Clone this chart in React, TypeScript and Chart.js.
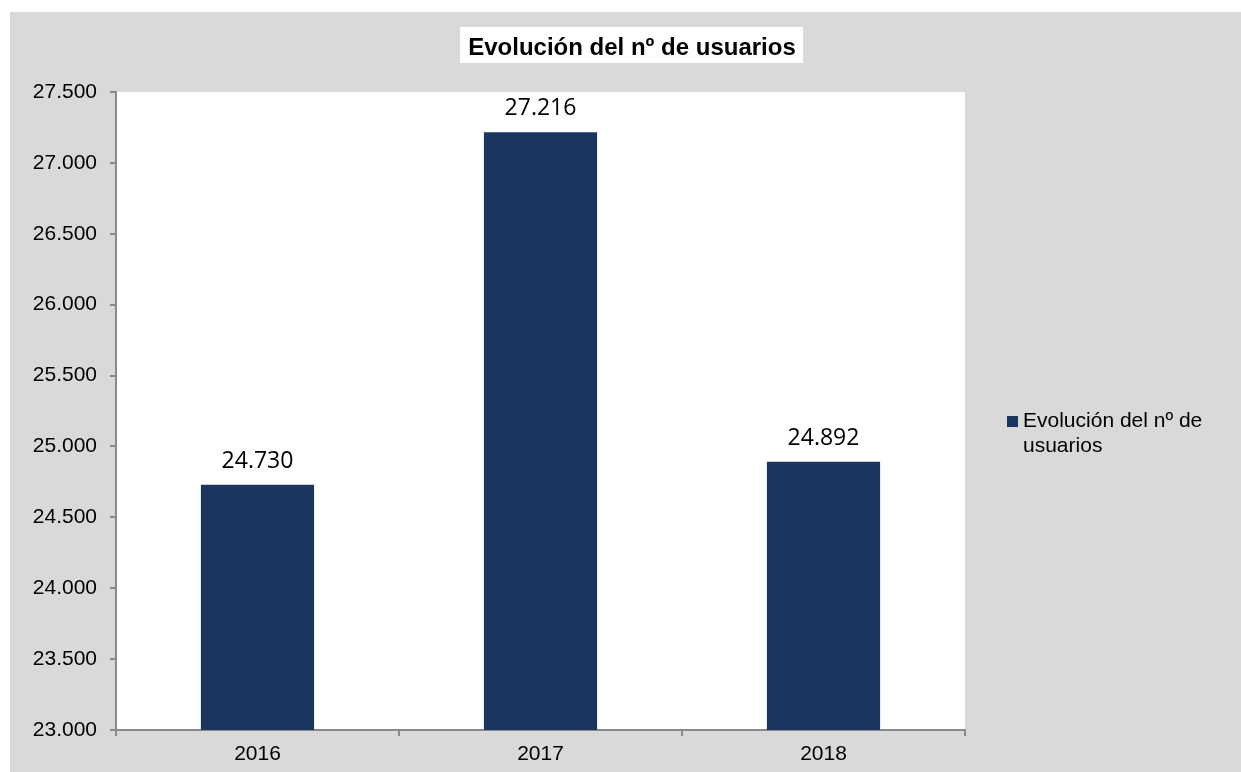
import React, { useEffect, useRef } from "react";
import { Chart, registerables } from "chart.js";

Chart.register(...registerables);

const categories = ["2016", "2017", "2018"];
const usuarios = [24730, 27216, 24892];
const seriesName = "Evolución del nº de usuarios";
const legendLines = ["Evolución del nº de", "usuarios"];
const chartTitle = "Evolución del nº de usuarios";
const yMin = 23000;
const yMax = 27500;
const yStep = 500;

const BG = "#d9d9d9";
const BAR = "#1a365f";
const AXIS = "#898989";
const FONT = "'Liberation Sans', Arial, sans-serif";

function fmt(v: number): string {
  return Math.round(v)
    .toString()
    .replace(/\B(?=(\d{3})+(?!\d))/g, ".");
}

const bgPlugin = {
  id: "bgPlugin",
  beforeDraw(chart: any) {
    const { ctx, chartArea } = chart;
    ctx.save();
    ctx.fillStyle = BG;
    ctx.fillRect(0, 0, chart.width, chart.height);
    ctx.fillStyle = "#ffffff";
    ctx.fillRect(chartArea.left, chartArea.top, chartArea.right - chartArea.left, chartArea.bottom - chartArea.top);
    ctx.restore();
  },
};

const titlePlugin = {
  id: "titlePlugin",
  afterDraw(chart: any) {
    const { ctx } = chart;
    ctx.save();
    ctx.fillStyle = "#ffffff";
    ctx.fillRect(450, 15, 343, 36);
    ctx.fillStyle = "#000000";
    ctx.font = `bold 24px ${FONT}`;
    ctx.textAlign = "center";
    ctx.textBaseline = "alphabetic";
    ctx.fillText(chartTitle, 622, 43);
    ctx.restore();
  },
};

const valueLabelPlugin = {
  id: "valueLabelPlugin",
  afterDatasetsDraw(chart: any) {
    const { ctx } = chart;
    const meta = chart.getDatasetMeta(0);
    ctx.save();
    ctx.fillStyle = "#000000";
    ctx.font = `23px 'Open Sans', sans-serif`;
    ctx.textAlign = "center";
    ctx.textBaseline = "alphabetic";
    meta.data.forEach((el: any, i: number) => {
      const v = chart.data.datasets[0].data[i] as number;
      ctx.fillText(fmt(v), el.x, el.y - 17);
    });
    ctx.restore();
  },
};

const legendPlugin = {
  id: "legendPlugin",
  afterDraw(chart: any) {
    const { ctx } = chart;
    ctx.save();
    ctx.fillStyle = BAR;
    ctx.fillRect(997, 404, 11, 11);
    ctx.fillStyle = "#000000";
    ctx.font = `21px ${FONT}`;
    ctx.textAlign = "left";
    ctx.textBaseline = "alphabetic";
    legendLines.forEach((line, i) => {
      ctx.fillText(line, 1013, 415 + i * 25);
    });
    ctx.restore();
  },
};

export default function App() {
  const ref = useRef<HTMLCanvasElement | null>(null);

  useEffect(() => {
    if (!ref.current) return;
    const chart = new Chart(ref.current, {
      type: "bar",
      data: {
        labels: categories,
        datasets: [
          {
            label: seriesName,
            data: usuarios,
            backgroundColor: BAR,
            borderWidth: 0,
            barPercentage: 0.4,
            categoryPercentage: 1.0,
          },
        ],
      },
      options: {
        responsive: false,
        animation: false,
        devicePixelRatio: 1,
        layout: { padding: { top: 80, right: 276, left: 0, bottom: 0 } },
        plugins: {
          legend: { display: false },
          title: { display: false },
          tooltip: { enabled: false },
        },
        scales: {
          x: {
            grid: {
              display: true,
              drawOnChartArea: false,
              drawTicks: true,
              tickLength: 6,
              color: AXIS,
              lineWidth: 2,
              offset: true,
            },
            border: { display: true, color: AXIS, width: 2 },
            ticks: {
              color: "#000000",
              font: { family: FONT, size: 21 },
              padding: 6,
            },
            afterFit: (s: any) => {
              s.height = 42;
            },
          },
          y: {
            min: yMin,
            max: yMax,
            grid: {
              display: true,
              drawOnChartArea: false,
              drawTicks: true,
              tickLength: 6,
              color: AXIS,
              lineWidth: 2,
            },
            border: { display: true, color: AXIS, width: 2 },
            ticks: {
              stepSize: yStep,
              color: "#000000",
              font: { family: FONT, size: 21 },
              padding: 13,
              callback: (v: any) => fmt(Number(v)),
            },
            afterFit: (s: any) => {
              s.width = 106;
            },
          },
        },
      },
      plugins: [bgPlugin, valueLabelPlugin, titlePlugin, legendPlugin],
    });
    return () => chart.destroy();
  }, []);

  return (
    <div style={{ position: "absolute", left: 10, top: 12, width: 1231, height: 760 }}>
      <canvas ref={ref} width={1231} height={760} style={{ display: "block" }} />
    </div>
  );
}
